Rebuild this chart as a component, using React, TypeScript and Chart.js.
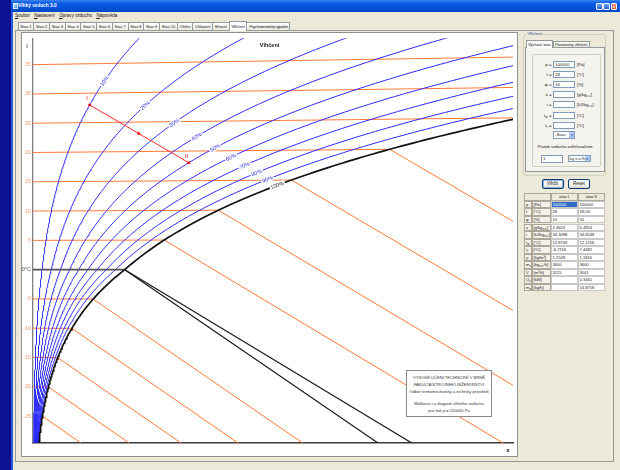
import React, { useEffect, useRef } from 'react';
import { Chart, registerables } from 'chart.js';

Chart.register(...registerables);

// ---- diagram data -------------------------------------------------------
const PRESSURE = 100000; // Pa
const X_MIN = 0;
const X_MAX = 20; // g/kg
const Y_MIN = -29.6;
const Y_MAX = 39.5;
const Y_TICKS = [35, 30, 25, 20, 15, 10, 5, 0, -5, -10, -15, -20, -25];
const ISOTHERMS = [35, 30, 25, 20, 15, 10, 5, -5, -10, -15, -20, -25];
const RH_LEVELS = [10, 20, 30, 40, 50, 60, 70, 80, 90];
const RH_LABEL_ENTHALPY = 40; // kJ/kg, the RH labels sit on this isenthalp
const STATE_NAMES = ['I', 'II'];
const STATE_T = [28, 18.03];
const STATE_X = [2.3624, 6.4954];

// ---- window texts -------------------------------------------------------
const WINDOW_TITLE = 'Vlhký vzduch 3.0';
const MENU_ITEMS = ['Soubor', 'Nastavení', 'Úpravy vzduchu', 'Nápověda'];
const TABS = ['Stav 1', 'Stav 2', 'Stav 3', 'Stav 4', 'Stav 5', 'Stav 6', 'Stav 7', 'Stav 8', 'Stav 9', 'Stav 10', 'Ohřev', 'Chlazení', 'Mísení', 'Vlhčení', 'Psychrometrický výpočet'];
const ACTIVE_TAB = 'Vlhčení';
const CHART_TITLE = 'Vlhčení';
const INPUT_SYMBOLS = ['p', 't', 'φ', 'x', 'i', 't_{w}', 't_{r}'];
const INPUT_UNITS = ['[Pa]', '[°C]', '[%]', '[g/kg_{s.v.}]', '[kJ/kg_{s.v.}]', '[°C]', '[°C]'];
const INPUT_VALUES = ['100000', '28', '10', '', '', '', ''];
const TABLE_HEAD = ['stav I', 'stav II'];
const TABLE_SYMBOLS = ['p', 't', 'φ', 'x', 'i', 't_{w}', 't_{r}', 'ρ', 'm_{v}', 'V', 'Q_{v}', 'm_{w}'];
const TABLE_UNITS = ['[Pa]', '[°C]', '[%]', '[g/kg_{s.v.}]', '[kJ/kg_{s.v.}]', '[°C]', '[°C]', '[kg/m³]', '[kg_{s.v.}/h]', '[m³/h]', '[kW]', '[kg/h]'];
const TABLE_STAV_I = ['100000', '28', '10', '2,3624', '34,3098', '12,8749', '-6,7116', '1,1549', '3600', '3125', '', ''];
const TABLE_STAV_II = ['100000', '18,03', '50', '6,4954', '34,6548', '12,1256', '7,4482', '1,1816', '3600', '3041', '0,3461', '14,8758'];
const INFO_LINES = [
  'VYSOKÉ UČENÍ TECHNICKÉ V BRNĚ',
  'FAKULTA STROJNÍHO INŽENÝRSTVÍ',
  'Odbor termomechaniky a techniky prostředí',
  '',
  'Mollierův i-x diagram vlhkého vzduchu',
  'pro tlak p = 100000 Pa',
];

// ---- psychrometrics -----------------------------------------------------
const CP_AIR = 1.01;
const CP_VAPOUR = 1.86;
const C_WATER = 4.19;
const C_ICE = 2.09;
const R0 = 2500;
const L_FUSION = 333.6;

function pSat(t: number) {
  return t >= 0
    ? 610.94 * Math.exp((17.625 * t) / (t + 243.04))
    : 611.21 * Math.exp((22.587 * t) / (t + 273.86));
}
function xOf(t: number, phi = 1) {
  const pv = phi * pSat(t);
  return (622 * pv) / (PRESSURE - pv);
}
// skewed ordinate (i - r0·x), expressed in °C at x = 0
function ord(t: number, x: number) {
  return (t * (CP_AIR + (CP_VAPOUR * x) / 1000)) / CP_AIR;
}
function fogOrd(t: number, x: number, xs: number, ice: boolean) {
  const k = ice ? C_ICE * t - L_FUSION - R0 : C_WATER * t - R0;
  return ord(t, xs) + (k * (x - xs)) / 1000 / CP_AIR;
}
function enthalpy(t: number, x: number) {
  return CP_AIR * t + (x / 1000) * (R0 + CP_VAPOUR * t);
}
function tAtEnthalpy(phi: number, i: number) {
  let lo = -30;
  let hi = 60;
  for (let k = 0; k < 60; k++) {
    const mid = (lo + hi) / 2;
    if (enthalpy(mid, xOf(mid, phi)) < i) lo = mid;
    else hi = mid;
  }
  return (lo + hi) / 2;
}
function rhCurve(phi: number) {
  const pts: { x: number; y: number }[] = [];
  for (let t = -31; t <= 48; t += 0.25) {
    const x = xOf(t, phi);
    pts.push({ x, y: ord(t, x) });
    if (x > X_MAX + 1) break;
  }
  return pts;
}
function isotherm(t: number) {
  const xs = xOf(t);
  if (xs >= X_MAX) return [{ x: 0, y: ord(t, 0) }, { x: X_MAX, y: ord(t, X_MAX) }];
  return [
    { x: 0, y: ord(t, 0) },
    { x: xs, y: ord(t, xs) },
    { x: X_MAX, y: fogOrd(t, X_MAX, xs, t < 0) },
  ];
}

const ORANGE = '#FF7A36';
const BLUE = '#2A2AFF';
const UI_FONT = "'Liberation Sans', Arial, sans-serif";

function line(data: { x: number; y: number }[], color: string, width: number) {
  return { data, showLine: true, borderColor: color, borderWidth: width, pointRadius: 0, fill: false, tension: 0 };
}

function buildDatasets() {
  const ds: any[] = [];
  const states = STATE_T.map((t, k) => ({ x: STATE_X[k], y: ord(t, STATE_X[k]) }));
  ds.push({
    data: states, showLine: true, borderColor: '#FF2A2A', borderWidth: 1,
    pointRadius: 1.8, pointStyle: 'rect', pointBackgroundColor: '#FF0000', pointBorderWidth: 0,
  });
  ds.push(line(rhCurve(1), '#111111', 1.7));
  const x0 = xOf(0);
  ds.push(line([{ x: x0, y: 0 }, { x: X_MAX, y: fogOrd(0, X_MAX, x0, false) }], '#1a1a1a', 1.2));
  ds.push(line([{ x: x0, y: 0 }, { x: X_MAX, y: fogOrd(0, X_MAX, x0, true) }], '#1a1a1a', 1.2));
  ds.push(line([{ x: 0, y: 0 }, { x: x0, y: 0 }], '#555555', 1.6));
  RH_LEVELS.forEach((p) => ds.push(line(rhCurve(p / 100), BLUE, 1)));
  ISOTHERMS.forEach((t) => ds.push(line(isotherm(t), ORANGE, 1)));
  return ds;
}

const overlayPlugin = {
  id: 'mollierOverlay',
  afterDatasetsDraw(chart: any) {
    const { ctx, chartArea } = chart;
    const sx = chart.scales.x;
    const sy = chart.scales.y;
    ctx.save();
    ctx.beginPath();
    ctx.rect(chartArea.left, chartArea.top, chartArea.right - chartArea.left, chartArea.bottom - chartArea.top);
    ctx.clip();

    // relative humidity labels along the curves
    const levels = [...RH_LEVELS, 100];
    levels.forEach((p) => {
      const phi = p / 100;
      const t = tAtEnthalpy(phi, RH_LABEL_ENTHALPY);
      const xa = xOf(t, phi);
      const xb = xOf(t + 0.5, phi);
      const px = sx.getPixelForValue(xa);
      const py = sy.getPixelForValue(ord(t, xa));
      const qx = sx.getPixelForValue(xb);
      const qy = sy.getPixelForValue(ord(t + 0.5, xb));
      const ang = Math.atan2(qy - py, qx - px);
      const text = `${p}%`;
      ctx.save();
      ctx.translate(px, py);
      ctx.rotate(ang);
      ctx.font = `5.5px ${UI_FONT}`;
      const w = ctx.measureText(text).width;
      ctx.fillStyle = '#ffffff';
      ctx.fillRect(-w / 2 - 1, -3, w + 2, 6);
      ctx.fillStyle = p === 100 ? '#333333' : '#3535E0';
      ctx.textAlign = 'center';
      ctx.textBaseline = 'middle';
      ctx.fillText(text, 0, 0.3);
      ctx.restore();
    });

    // state points labels and direction arrow
    const pts = STATE_T.map((t, k) => ({
      x: sx.getPixelForValue(STATE_X[k]),
      y: sy.getPixelForValue(ord(t, STATE_X[k])),
    }));
    ctx.fillStyle = '#FF1A1A';
    ctx.font = `6px ${UI_FONT}`;
    ctx.textAlign = 'center';
    ctx.textBaseline = 'alphabetic';
    pts.forEach((p, k) => ctx.fillText(STATE_NAMES[k], p.x - 2.5, p.y - 5));
    const a = Math.atan2(pts[1].y - pts[0].y, pts[1].x - pts[0].x);
    const mx = (pts[0].x + pts[1].x) / 2;
    const my = (pts[0].y + pts[1].y) / 2;
    ctx.save();
    ctx.translate(mx, my);
    ctx.rotate(a);
    ctx.beginPath();
    ctx.moveTo(2.5, 0);
    ctx.lineTo(-2, -1.8);
    ctx.lineTo(-2, 1.8);
    ctx.closePath();
    ctx.fill();
    ctx.restore();
    ctx.restore();

    // title and axis names
    ctx.save();
    ctx.fillStyle = '#222222';
    ctx.textAlign = 'center';
    ctx.textBaseline = 'middle';
    ctx.font = `bold 5.5px ${UI_FONT}`;
    ctx.fillText(CHART_TITLE, chart.width / 2, chartArea.top + 7);
    ctx.fillStyle = '#555555';
    ctx.font = `bold 6px ${UI_FONT}`;
    ctx.fillText('i', chartArea.left - 6, chartArea.top + 8.5);
    ctx.fillStyle = '#111111';
    ctx.fillText('x', chartArea.right - 5, chartArea.bottom + 7);
    ctx.restore();
  },
};

function rich(s: string) {
  const parts = s.split(/_\{([^}]*)\}/);
  return parts.map((p, i) =>
    i % 2 ? (
      <sub key={i} style={{ fontSize: '75%', verticalAlign: '-0.8px', lineHeight: 0 }}>{p}</sub>
    ) : (
      <span key={i}>{p}</span>
    ),
  );
}

function box(left: number, top: number, width: number, height: number, extra: React.CSSProperties = {}): React.CSSProperties {
  return { position: 'absolute', left, top, width, height, boxSizing: 'border-box', ...extra };
}

const xpInput: React.CSSProperties = {
  border: '1px solid #7F9DB9', background: '#ffffff', fontSize: 4.3, lineHeight: '5px',
  paddingLeft: 1, color: '#222', overflow: 'hidden', whiteSpace: 'nowrap',
};
const xpButton: React.CSSProperties = {
  border: '1px solid #003C74', borderRadius: 2,
  background: 'linear-gradient(#FFFFFF, #F1F0EA 70%, #D8D2C6)', fontSize: 4.5,
  display: 'flex', alignItems: 'center', justifyContent: 'center', color: '#111',
};

function Combo({ left, top, width, text }: { left: number; top: number; width: number; text: string }) {
  return (
    <div style={box(left, top, width, 7.5, { ...xpInput, lineHeight: '5.5px' })}>
      {text}
      <div style={box(width - 7, 0, 5.5, 5.5, { background: 'linear-gradient(#C6D6FB,#98B4F0)', border: '0.5px solid #B5C8F0', fontSize: 3.5, lineHeight: '5px', textAlign: 'center', color: '#4D6185' })}>▾</div>
    </div>
  );
}

export default function App() {
  const canvasRef = useRef<HTMLCanvasElement>(null);

  useEffect(() => {
    const canvas = canvasRef.current;
    if (!canvas) return;
    const chart = new Chart(canvas, {
      type: 'scatter',
      data: { datasets: buildDatasets() },
      options: {
        animation: false,
        responsive: false,
        maintainAspectRatio: false,
        events: [],
        layout: { padding: { top: 1, left: 0, right: 0, bottom: 0 } },
        plugins: { legend: { display: false }, tooltip: { enabled: false }, title: { display: false } },
        scales: {
          x: {
            type: 'linear', min: X_MIN, max: X_MAX, bounds: 'data',
            grid: { display: false, drawTicks: false },
            border: { display: true, color: '#3a3a3a', width: 1.5 },
            ticks: { display: false },
            afterFit: (s: any) => { s.height = 13; },
          },
          y: {
            type: 'linear', min: Y_MIN, max: Y_MAX, bounds: 'data',
            grid: { display: false, drawTicks: false },
            border: { display: true, color: '#808080', width: 1.3 },
            ticks: {
              autoSkip: false,
              padding: 2,
              font: { size: 5.5, family: UI_FONT },
              color: (c: any) => (c.tick && c.tick.value === 0 ? '#4a4a4a' : '#F39A6C'),
              callback: (v: any) => (Number(v) === 0 ? '0°C' : String(v)),
            },
            afterBuildTicks: (s: any) => { s.ticks = Y_TICKS.map((v) => ({ value: v })); },
            afterFit: (s: any) => { s.width = 11; },
          },
        },
      } as any,
      plugins: [overlayPlugin],
    });
    return () => chart.destroy();
  }, []);

  const tableTop = 193.3;
  const rowH = 7.55;
  const cols = [524, 531.5, 550.5, 577.5, 605];

  return (
    <div style={{ position: 'fixed', left: 0, top: 0, width: 620, height: 470, overflow: 'hidden', background: '#ECE9D8', fontFamily: UI_FONT, color: '#111' }}>
      {/* desktop strip and window frame */}
      <div style={box(0, 0, 11, 470, { background: '#0B1190' })} />
      <div style={box(11, 0, 2, 470, { background: '#2B5BDA' })} />

      {/* title bar */}
      <div style={box(11, 0, 609, 12, { background: 'linear-gradient(#3D86F2 0%, #0C5DE8 25%, #0654DD 60%, #0447C6 100%)' })} />
      <div style={box(12.5, 3, 5, 5.5, { background: 'linear-gradient(135deg,#CDEBFF,#3B86E6)', border: '0.5px solid #E6F0FF' })} />
      <div style={box(18, 0, 150, 12, { color: '#ffffff', fontSize: 4.8, fontWeight: 'bold', lineHeight: '12px', whiteSpace: 'nowrap' })}>{WINDOW_TITLE}</div>
      <div style={box(596, 2.5, 6.5, 7, { background: 'linear-gradient(#6E9EF5,#2460DA)', border: '0.6px solid #fff', borderRadius: 1 })} />
      <div style={box(603.3, 2.5, 6.5, 7, { background: 'linear-gradient(#6E9EF5,#2460DA)', border: '0.6px solid #fff', borderRadius: 1 })} />
      <div style={box(610.6, 2.5, 6.5, 7, { background: 'linear-gradient(#F09A80,#D8401E)', border: '0.6px solid #fff', borderRadius: 1, color: '#fff', fontSize: 5, lineHeight: '6px', textAlign: 'center' })}>×</div>

      {/* menu */}
      <div style={box(15, 12, 200, 8, { display: 'flex', gap: 4.3, fontSize: 4.6, lineHeight: '8px', whiteSpace: 'nowrap' })}>
        {MENU_ITEMS.map((m) => (
          <span key={m}><span style={{ textDecoration: 'underline' }}>{m[0]}</span>{m.slice(1)}</span>
        ))}
      </div>

      {/* tab control */}
      <div style={box(15, 30, 599, 432, { border: '1px solid #919B9C', background: '#ECE9D8' })} />
      <div style={box(17.5, 20.5, 300, 10, { display: 'flex', alignItems: 'flex-end' })}>
        {TABS.map((t) => {
          const active = t === ACTIVE_TAB;
          return (
            <div
              key={t}
              style={{
                position: 'relative', height: active ? 10 : 8.8, padding: '0 1.7px', marginRight: -1,
                border: '1px solid #919B9C', borderBottom: active ? 'none' : '1px solid #919B9C',
                background: active ? '#FCFCFE' : 'linear-gradient(#FFFFFF,#ECEBE5)',
                fontSize: 4, lineHeight: active ? '9px' : '7.6px', whiteSpace: 'nowrap', boxSizing: 'border-box',
                letterSpacing: t.length > 12 ? -0.25 : 0, zIndex: active ? 2 : 1,
              }}
            >
              {t}
            </div>
          );
        })}
      </div>

      {/* chart panel */}
      <div style={box(21, 32, 497, 425, { border: '1px solid #8E8F8F', background: '#ffffff' })}>
        <canvas ref={canvasRef} width={495} height={423} style={{ position: 'absolute', left: 0, top: 0, width: 495, height: 423 }} />
        <div style={box(384, 337, 86, 46.5, { background: '#ffffff', border: '1px solid #8A8A8A', paddingTop: 2.6, textAlign: 'center', fontSize: 4.1, lineHeight: '7.3px', color: '#333', zIndex: 3 })}>
          {INFO_LINES.map((l, k) => (
            <div key={k} style={{ height: l ? 7.3 : 4.6, whiteSpace: 'nowrap' }}>{l}</div>
          ))}
        </div>
      </div>

      {/* right panel: humidifier group */}
      <div style={box(523, 34, 83, 141.5, { border: '1px solid #D0D0BF', borderRadius: 3 })} />
      <div style={box(526.5, 31, 15, 6, { background: '#ECE9D8', fontSize: 4.3, lineHeight: '6px', color: '#2A3F8A', paddingLeft: 1 })}>Vlhčení</div>
      <div style={box(525, 47.3, 79.5, 124.5, { border: '1px solid #919B9C', background: '#F4F3EE' })} />
      <div style={box(525.5, 40, 27.5, 8, { border: '1px solid #919B9C', borderBottom: 'none', background: '#FCFCFE', fontSize: 4, lineHeight: '7px', textAlign: 'center', whiteSpace: 'nowrap' })}>Výchozí stav</div>
      <div style={box(552.5, 41.2, 37.5, 6.6, { border: '1px solid #919B9C', background: 'linear-gradient(#FFFFFF,#ECEBE5)', fontSize: 4, lineHeight: '5px', textAlign: 'center', whiteSpace: 'nowrap' })}>Parametry vlhčení</div>
      <div style={box(531.5, 53.5, 69, 113, { border: '1px solid #D0D0BF', borderRadius: 2 })} />

      {INPUT_SYMBOLS.map((s, k) => {
        const top = 60.5 + k * 10.2;
        return (
          <React.Fragment key={s}>
            <div style={box(533, top, 18.5, 7, { fontSize: 4.4, lineHeight: '7px', textAlign: 'right', whiteSpace: 'nowrap' })}>{rich(s)} =</div>
            <div style={box(553, top, 22, 7, { ...xpInput, lineHeight: '5px' })}>{INPUT_VALUES[k]}</div>
            <div style={box(577, top, 26, 7, { fontSize: 4.2, lineHeight: '7px', whiteSpace: 'nowrap' })}>{rich(INPUT_UNITS[k])}</div>
          </React.Fragment>
        );
      })}
      <Combo left={553} top={131.3} width={22} text="-Stav-" />
      <div style={box(527, 144, 77, 6, { fontSize: 4.2, lineHeight: '6px', textAlign: 'center', whiteSpace: 'nowrap' })}>Průtok vzduchu zvlhčovačem:</div>
      <div style={box(541, 154.5, 21.5, 8, { ...xpInput, lineHeight: '6px' })}>1</div>
      <Combo left={567.5} top={154.8} width={23} text="kg s.v./h" />

      <div style={box(541.5, 179, 22, 9.5, { ...xpButton, boxShadow: 'inset 0 0 0 0.8px #7DA2CE' })}>Vlhčit</div>
      <div style={box(568, 179, 22, 9.5, xpButton)}>Reset</div>

      {/* result table */}
      <div style={box(cols[0], tableTop, cols[2] - cols[0], rowH, { border: '0.5px solid #ACA899', background: '#ECE9D8' })} />
      {TABLE_HEAD.map((h, c) => (
        <div key={h} style={box(cols[2 + c], tableTop, cols[3 + c] - cols[2 + c], rowH, { border: '0.5px solid #ACA899', background: '#ECE9D8', fontSize: 4.2, lineHeight: `${rowH - 1}px`, textAlign: 'center' })}>{h}</div>
      ))}
      {TABLE_SYMBOLS.map((s, r) => {
        const top = tableTop + rowH * (r + 1);
        const cell: React.CSSProperties = { fontSize: 4.1, lineHeight: `${rowH - 1}px`, whiteSpace: 'nowrap', overflow: 'hidden', paddingLeft: 1 };
        const vals = [TABLE_STAV_I[r], TABLE_STAV_II[r]];
        return (
          <React.Fragment key={s}>
            <div style={box(cols[0], top, cols[1] - cols[0], rowH, { ...cell, border: '0.5px solid #ACA899', background: '#F3F1E8' })}>{rich(s)}</div>
            <div style={box(cols[1], top, cols[2] - cols[1], rowH, { ...cell, border: '0.5px solid #ACA899', background: '#F3F1E8' })}>{rich(TABLE_UNITS[r])}</div>
            {vals.map((v, c) => {
              const selected = r === 0 && c === 0;
              return (
                <div key={c} style={box(cols[2 + c], top, cols[3 + c] - cols[2 + c], rowH, { ...cell, border: '0.5px solid #C9C9C9', background: selected ? '#316AC5' : '#ffffff', color: selected ? '#ffffff' : '#222' })}>{v}</div>
              );
            })}
          </React.Fragment>
        );
      })}
    </div>
  );
}
